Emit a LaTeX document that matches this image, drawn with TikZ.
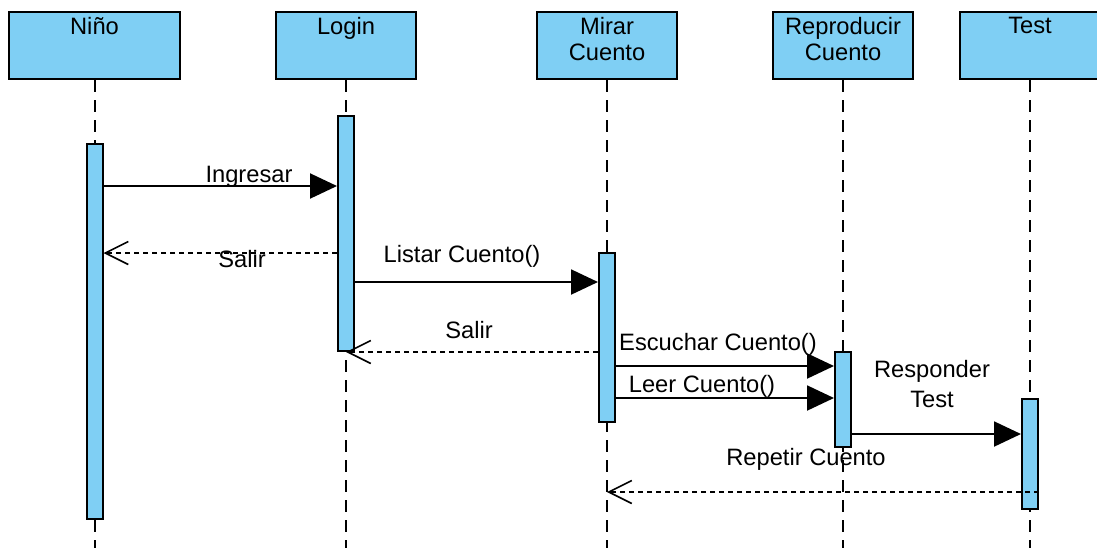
\documentclass[tikz,border=0pt]{standalone}
\usepackage{fontspec}
\setmainfont{Liberation Sans}
\usepackage{tikz}
\usetikzlibrary{arrows.meta,positioning}
\definecolor{lifeblue}{RGB}{127,207,244}

\tikzset{
  actor/.style={draw, line width=1pt, fill=lifeblue, anchor=north west,
                minimum width=70pt, minimum height=33.5pt},
  actortext/.style={inner sep=0pt, align=center,
                    font=\fontsize{11.85}{13}\selectfont},
  bar/.style={draw, line width=1pt, fill=lifeblue, anchor=north,
              minimum width=8pt, inner sep=0pt},
  lifeline/.style={line width=1pt, dash pattern=on 6pt off 4pt},
  call/.style={line width=1pt, -{Triangle[length=13.5pt,width=12.5pt]}},
  reply/.style={line width=0.7pt, dash pattern=on 2.5pt off 2pt,
                -{Straight Barb[length=11.5pt,width=11.5pt,line width=0.8pt]}},
  msg/.style={inner sep=0pt, anchor=base, font=\fontsize{11.85}{15}\selectfont}
}

\begin{document}
\begin{tikzpicture}[x=0.5pt, y=-0.5pt]
\fill[white] (0,0) rectangle (1097,548);
\useasboundingbox (0,0) rectangle (1097,548);

\node[actor, minimum width=85.5pt] (nino) at (8,11) {};
\node[actor] (login) at (275,11) {};
\node[actor] (mirar) at (536,11) {};
\node[actor] (repro) at (772,11) {};
\node[actor] (test) at (959,11) {};

\node[actortext, below=3pt of nino.north] {Niño};
\node[actortext, below=3pt of login.north] {Login};
\node[actortext, below=3pt of mirar.north] {Mirar\\Cuento};
\node[actortext, below=3pt of repro.north] {Reproducir\\Cuento};
\node[actortext, below=3pt of test.north] {Test};

\coordinate (bottom) at (0,548);
\foreach \a in {nino,login,mirar,repro,test}
  \draw[lifeline] (\a.south) -- (\a.south |- bottom);

\node[bar, minimum height=187.5pt] (bnino) at (nino.south |- 0,143) {};
\node[bar, minimum height=117.5pt] (blogin) at (login.south |- 0,115) {};
\node[bar, minimum height=84.5pt] (bmirar) at (mirar.south |- 0,252) {};
\node[bar, minimum height=47.5pt] (brepro) at (repro.south |- 0,351) {};
\node[bar, minimum height=55pt] (btest) at (test.south |- 0,398) {};

\coordinate (m1) at (0,186);
\coordinate (m2) at (0,253);
\coordinate (m3) at (0,282);
\coordinate (m5) at (0,366);
\coordinate (m6) at (0,398);
\coordinate (m7) at (0,434);
\coordinate (m8) at (0,492);

\draw[call] (bnino.east |- m1) -- (blogin.west |- m1);
\draw[reply] (blogin.west |- m2) -- (bnino.east |- m2);
\draw[call] (blogin.east |- m3) -- (bmirar.west |- m3);
\draw[reply] (bmirar.west |- blogin.south) -- (blogin.south);
\draw[call] (bmirar.east |- m5) -- (brepro.west |- m5);
\draw[call] (bmirar.east |- m6) -- (brepro.west |- m6);
\draw[call] (brepro.east |- m7) -- (btest.west |- m7);
\draw[reply] (btest.east |- m8) -- (mirar.south |- m8);

\node[msg] (ingresar) at (249,182) {Ingresar};
\node[msg] (salir1) at (242,267) {Salir};
\node[msg] (listar) at (462,262) {Listar Cuento()};
\node[msg] (salir2) at (469,338) {Salir};
\node[msg] (escuchar) at (718,350) {Escuchar Cuento()};
\node[msg] (leer) at (702,392) {Leer Cuento()};
\node[msg, anchor=north, align=center] (responder) at (932,360) {Responder\\Test};
\node[msg] (repetir) at (806,465) {Repetir Cuento};
\end{tikzpicture}
\end{document}
